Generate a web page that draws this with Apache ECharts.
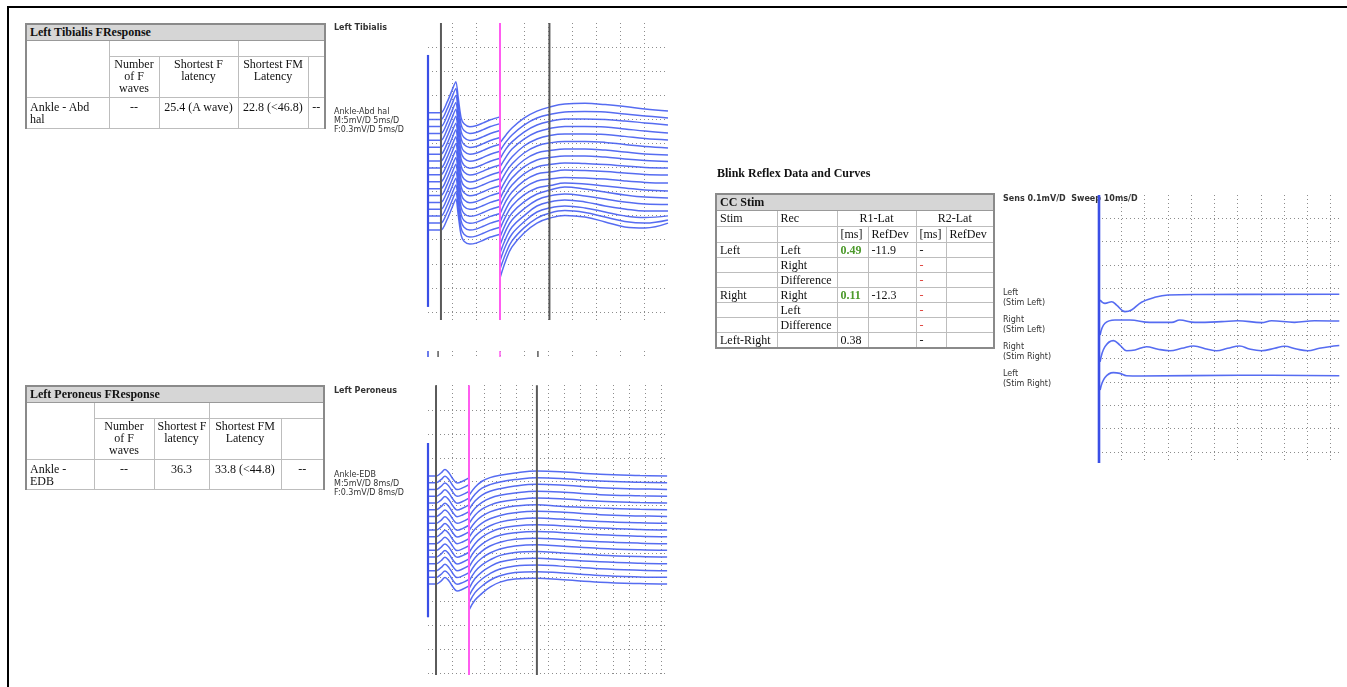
<!DOCTYPE html>
<html>
<head>
<meta charset="utf-8">
<script src="https://cdn.jsdelivr.net/npm/echarts@6/dist/echarts.min.js"></script>
<style>
  html, body { margin: 0; padding: 0; background: #fff; }
  #page { position: relative; width: 1347px; height: 687px; overflow: hidden; }
  #chart { position: absolute; left: 0; top: 0; width: 1347px; height: 687px; }
  .frame { position: absolute; left: 7px; top: 6px; right: -4px; bottom: -4px; border-top: 2px solid #000; border-left: 2px solid #000; }
  table.nc { position: absolute; border-collapse: collapse; table-layout: fixed; font-family: 'Liberation Serif', serif; font-size: 12px; line-height: 12px; color: #111; border: 2px solid #8a8a8a; }
  table.nc td { border: 1px solid #bdbdbd; padding: 1px 3px; vertical-align: top; overflow: hidden; white-space: nowrap; }
  table.nc td.c { text-align: center; }
  table.nc tr.ttl td { background: #d6d6d6; font-weight: bold; vertical-align: middle; border-bottom-color: #999; }
  table.nc td.g { color: #4d9a2c; font-weight: bold; }
  table.nc td.r { color: #e0403a; }
  .h { position: absolute; font-family: 'Liberation Serif', serif; font-size: 12px; font-weight: bold; color: #111; }
</style>
</head>
<body>
<div id="page">
  <div id="chart"></div>
  <div class="frame"></div>

  <table class="nc" style="left:25px;top:23px;width:299px;border-bottom:1px dashed #999">
    <colgroup><col style="width:83px"><col style="width:50px"><col style="width:79px"><col style="width:70px"><col style="width:17px"></colgroup>
    <tr class="ttl" style="height:16px"><td colspan="5">Left Tibialis FResponse</td></tr>
    <tr style="height:16px"><td rowspan="2"></td><td colspan="2"></td><td colspan="2"></td></tr>
    <tr style="height:41px"><td class="c">Number<br>of F<br>waves</td><td class="c">Shortest F<br>latency</td><td class="c">Shortest FM<br>Latency</td><td></td></tr>
    <tr style="height:31px"><td style="padding-top:3px">Ankle - Abd<br>hal</td><td class="c" style="padding-top:3px">--</td><td class="c" style="padding-top:3px">25.4 (A wave)</td><td class="c" style="padding-top:3px">22.8 (&lt;46.8)</td><td class="c" style="padding-top:3px">--</td></tr>
  </table>

  <table class="nc" style="left:25px;top:385px;width:298px;border-bottom:1px dashed #999">
    <colgroup><col style="width:68px"><col style="width:60px"><col style="width:55px"><col style="width:72px"><col style="width:43px"></colgroup>
    <tr class="ttl" style="height:16px"><td colspan="5">Left Peroneus FResponse</td></tr>
    <tr style="height:16px"><td rowspan="2"></td><td colspan="2"></td><td colspan="2"></td></tr>
    <tr style="height:41px"><td class="c">Number<br>of F<br>waves</td><td class="c">Shortest F<br>latency</td><td class="c">Shortest FM<br>Latency</td><td></td></tr>
    <tr style="height:30px"><td style="padding-top:3px">Ankle -<br>EDB</td><td class="c" style="padding-top:3px">--</td><td class="c" style="padding-top:3px">36.3</td><td class="c" style="padding-top:3px">33.8 (&lt;44.8)</td><td class="c" style="padding-top:3px">--</td></tr>
  </table>

  <div class="h" style="left:717px;top:166px">Blink Reflex Data and Curves</div>
  <table class="nc" style="left:715px;top:193px;width:278px">
    <colgroup><col style="width:61px"><col style="width:60px"><col style="width:31px"><col style="width:48px"><col style="width:30px"><col style="width:48px"></colgroup>
    <tr class="ttl" style="height:16px"><td colspan="6">CC Stim</td></tr>
    <tr style="height:16px"><td>Stim</td><td>Rec</td><td colspan="2" class="c">R1-Lat</td><td colspan="2" class="c">R2-Lat</td></tr>
    <tr style="height:16px"><td></td><td></td><td>[ms]</td><td>RefDev</td><td>[ms]</td><td>RefDev</td></tr>
    <tr style="height:15px"><td>Left</td><td>Left</td><td class="g">0.49</td><td>-11.9</td><td>-</td><td></td></tr>
    <tr style="height:15px"><td></td><td>Right</td><td></td><td></td><td class="r">-</td><td></td></tr>
    <tr style="height:15px"><td></td><td>Difference</td><td></td><td></td><td class="r">-</td><td></td></tr>
    <tr style="height:15px"><td>Right</td><td>Right</td><td class="g">0.11</td><td>-12.3</td><td class="r">-</td><td></td></tr>
    <tr style="height:15px"><td></td><td>Left</td><td></td><td></td><td class="r">-</td><td></td></tr>
    <tr style="height:15px"><td></td><td>Difference</td><td></td><td></td><td class="r">-</td><td></td></tr>
    <tr style="height:15px"><td>Left-Right</td><td></td><td>0.38</td><td></td><td>-</td><td></td></tr>
  </table>
</div>

<script>
// ---- Left Tibialis (x in ms, y in divisions of the display) ----
const tibMX = [0, 2.7, 4.0, 5.0, 5.8, 6.3, 6.9, 7.5, 8.7, 10.0, 11.5, 13.0, 15.0];
const tibMShape = [0, 0, 0.45, 0.93, 1.29, 0.62, -0.21, -0.46, -0.58, -0.54, -0.42, -0.29, -0.17];
const tibBase = [8.27, 7.99, 7.70, 7.41, 7.13, 6.84, 6.55, 6.27, 5.98, 5.70, 5.41, 5.12, 4.84, 4.55, 4.26, 3.98, 3.69, 3.40];
const tibFX = [15, 16.25, 17.5, 20, 22.7, 25.4, 28.5, 32.7, 36.9, 41, 45.2, 50];
const tibF = [
  [7.02, 7.35, 7.64, 8.05, 8.34, 8.51, 8.63, 8.66, 8.61, 8.53, 8.43, 8.34],
  [6.69, 7.06, 7.35, 7.76, 8.05, 8.20, 8.30, 8.32, 8.30, 8.22, 8.14, 8.05],
  [6.35, 6.77, 7.06, 7.47, 7.76, 7.91, 8.01, 8.01, 7.99, 7.93, 7.85, 7.76],
  [6.02, 6.43, 6.77, 7.18, 7.47, 7.62, 7.70, 7.70, 7.68, 7.60, 7.51, 7.43],
  [5.69, 6.10, 6.43, 6.89, 7.18, 7.33, 7.39, 7.39, 7.37, 7.29, 7.20, 7.14],
  [5.35, 5.81, 6.14, 6.60, 6.89, 7.02, 7.08, 7.08, 7.04, 6.95, 6.87, 6.81],
  [5.02, 5.48, 5.85, 6.31, 6.60, 6.70, 6.77, 6.77, 6.72, 6.64, 6.56, 6.52],
  [4.69, 5.19, 5.56, 6.02, 6.31, 6.41, 6.48, 6.48, 6.43, 6.35, 6.29, 6.25],
  [4.40, 4.90, 5.27, 5.73, 6.02, 6.12, 6.19, 6.16, 6.12, 6.06, 6.00, 5.98],
  [4.07, 4.61, 4.98, 5.44, 5.73, 5.81, 5.89, 5.87, 5.83, 5.77, 5.71, 5.69],
  [3.74, 4.28, 4.69, 5.15, 5.44, 5.52, 5.58, 5.56, 5.52, 5.44, 5.38, 5.35],
  [3.45, 3.99, 4.40, 4.86, 5.15, 5.25, 5.35, 5.31, 5.23, 5.15, 5.06, 5.02],
  [3.11, 3.69, 4.11, 4.57, 4.90, 5.06, 5.19, 5.11, 4.98, 4.86, 4.77, 4.73],
  [2.78, 3.40, 3.82, 4.28, 4.65, 4.82, 4.90, 4.82, 4.69, 4.57, 4.48, 4.46],
  [2.45, 3.07, 3.53, 3.99, 4.40, 4.57, 4.65, 4.57, 4.40, 4.28, 4.19, 4.19],
  [2.12, 2.78, 3.24, 3.74, 4.15, 4.32, 4.40, 4.32, 4.15, 3.99, 3.92, 3.99],
  [1.78, 2.45, 2.95, 3.49, 3.90, 4.11, 4.21, 4.13, 3.94, 3.76, 3.69, 3.82],
  [1.41, 2.16, 2.70, 3.28, 3.69, 3.90, 4.01, 3.94, 3.74, 3.53, 3.49, 3.69]
];
const tibStim = [0.21, 10.67];
const tibCursors = [2.7, 15, 25.3];
const tibMarks = [0, 2.1, 15, 22.9];

// ---- Left Peroneus ----
const perMX = [0, 2.67, 4.33, 5.67, 7.0, 8.33, 9.67, 11.33, 13.67];
const perMShape = [0, 0, 0.125, 0.27, 0.125, -0.125, -0.29, -0.23, -0.08];
const perBase = [8.24, 7.96, 7.68, 7.39, 7.11, 6.83, 6.55, 6.26, 5.98, 5.70, 5.41, 5.13, 4.85, 4.57, 4.28, 4.00, 3.72];
const perFX = [13.67, 15.67, 18, 20.67, 24, 29, 36.33, 44, 57.33, 70.67, 79.7];
const perF = [
  [7.43, 7.77, 8.02, 8.17, 8.27, 8.37, 8.45, 8.42, 8.31, 8.26, 8.24],
  [7.13, 7.48, 7.73, 7.88, 7.99, 8.09, 8.17, 8.14, 8.03, 7.98, 7.96],
  [6.84, 7.19, 7.44, 7.60, 7.71, 7.82, 7.89, 7.86, 7.75, 7.70, 7.68],
  [6.54, 6.89, 7.14, 7.31, 7.43, 7.53, 7.60, 7.57, 7.46, 7.41, 7.39],
  [6.25, 6.60, 6.85, 7.02, 7.15, 7.25, 7.32, 7.29, 7.18, 7.13, 7.11],
  [5.96, 6.31, 6.56, 6.74, 6.87, 6.98, 7.04, 6.97, 6.90, 6.85, 6.83],
  [5.67, 6.02, 6.27, 6.45, 6.59, 6.70, 6.76, 6.73, 6.62, 6.57, 6.55],
  [5.37, 5.72, 5.97, 6.16, 6.31, 6.42, 6.48, 6.44, 6.34, 6.28, 6.26],
  [5.03, 5.41, 5.68, 5.88, 6.04, 6.15, 6.20, 6.16, 6.06, 6.00, 5.98],
  [4.73, 5.12, 5.39, 5.60, 5.76, 5.87, 5.92, 5.88, 5.78, 5.72, 5.70],
  [4.43, 4.82, 5.10, 5.31, 5.47, 5.59, 5.64, 5.59, 5.49, 5.43, 5.41],
  [4.13, 4.53, 4.81, 5.02, 5.19, 5.31, 5.36, 5.31, 5.21, 5.15, 5.13],
  [3.83, 4.24, 4.52, 4.73, 4.92, 5.04, 5.08, 5.03, 4.93, 4.87, 4.85],
  [3.53, 3.95, 4.23, 4.45, 4.64, 4.76, 4.80, 4.75, 4.65, 4.59, 4.57],
  [3.22, 3.65, 3.93, 4.16, 4.35, 4.48, 4.52, 4.47, 4.36, 4.30, 4.28],
  [2.93, 3.36, 3.64, 3.88, 4.07, 4.20, 4.24, 4.19, 4.08, 4.02, 4.00],
  [2.63, 3.05, 3.33, 3.59, 3.80, 3.93, 3.96, 3.91, 3.80, 3.74, 3.72]
];
const perStim = [2.33, 9.62];
const perCursors = [2.67, 13.67, 36.3];

// ---- Blink reflex (x in ms, y in divisions) ----
const blinkLeftStimLeft = [[0.9, 6.50], [3.0, 6.35], [5.9, 6.42], [8.0, 6.28], [11.6, 6.00], [14.4, 6.07], [18.7, 6.40], [24.4, 6.61], [30.1, 6.71], [43.7, 6.73], [103.7, 6.74]];
const blinkRightStimLeft = [[0.9, 5.00], [3.0, 5.50], [7.3, 5.64], [13.7, 5.64], [22.3, 5.54], [31.7, 5.54], [35.1, 5.64], [41.6, 5.54], [53.1, 5.57], [60.0, 5.61], [70.3, 5.53], [74.6, 5.61], [84.4, 5.54], [93.0, 5.61], [103.7, 5.60]];
const blinkRightStimRight = [[0.9, 3.85], [3.0, 4.50], [6.6, 4.76], [9.4, 4.57], [12.3, 4.33], [15.9, 4.36], [20.9, 4.50], [25.8, 4.39], [30.9, 4.33], [36.0, 4.43], [41.1, 4.53], [47.1, 4.39], [50.9, 4.33], [55.7, 4.43], [60.9, 4.53], [65.1, 4.40], [70.2, 4.33], [75.9, 4.43], [80.2, 4.52], [85.3, 4.40], [90.1, 4.33], [95.1, 4.43], [99.4, 4.50], [103.7, 4.55]];
const blinkLeftStimRight = [[0.9, 2.65], [3.0, 3.18], [6.6, 3.39], [9.4, 3.36], [12.3, 3.26], [18.0, 3.25], [60.9, 3.28], [103.7, 3.26]];
const blinkStimX = 0.43;

const TRACE = 'rgba(72,96,240,0.92)';
const DOT = { color: '#8c8c8c', width: 1, type: [1, 3] };

const chart = echarts.init(document.getElementById('chart'), null, { renderer: 'canvas' });

const grids = [
  { left: 428, top: 23, width: 240, height: 297 },   // 0 tibialis verticals
  { left: 428, top: 47, width: 240, height: 265 },   // 1 tibialis traces
  { left: 428, top: 351, width: 240, height: 6 },    // 2 tibialis marker strip
  { left: 420, top: 385, width: 257, height: 290 },  // 3 peroneus verticals
  { left: 428, top: 410, width: 240, height: 263 },  // 4 peroneus traces
  { left: 1098, top: 195, width: 242, height: 268 }, // 5 blink verticals
  { left: 1098, top: 218, width: 242, height: 234 }  // 6 blink traces
];

function vAxis(gi, min, max, interval) {
  return { type: 'value', gridIndex: gi, min, max, interval,
    axisLine: { show: false }, axisTick: { show: false }, axisLabel: { show: false },
    splitLine: { show: true, showMinLine: false, showMaxLine: false, lineStyle: DOT } };
}
function hAxis(gi, min, max, interval) {
  return { type: 'value', gridIndex: gi, min, max, interval,
    axisLine: { show: false }, axisTick: { show: false }, axisLabel: { show: false },
    splitLine: { show: true, lineStyle: DOT } };
}
function blank(gi, min, max) {
  return { type: 'value', gridIndex: gi, min, max, show: false, splitLine: { show: false } };
}

const xAxis = [
  vAxis(0, 0, 50, 5), blank(1, 0, 50), vAxis(2, 0, 50, 5),
  vAxis(3, 0, 16, 1), blank(4, 0, 80),
  vAxis(5, 0, 104, 10), blank(6, 0, 104)
];
const yAxis = [
  blank(0, 0, 1), hAxis(1, 0, 11, 1), blank(2, 0, 1),
  blank(3, 0, 1), hAxis(4, 0, 11, 1),
  blank(5, 0, 1), hAxis(6, 0, 10, 1)
];

const series = [];
function line(gi, data, color, width, extra) {
  series.push(Object.assign({ type: 'line', xAxisIndex: gi, yAxisIndex: gi, data,
    symbol: 'none', silent: true, animation: false,
    lineStyle: { color, width } }, extra || {}));
}

// tibialis traces
tibBase.forEach((b, k) => {
  line(1, tibMX.map((x, i) => [x, b + tibMShape[i]]), TRACE, 1.5, { smooth: 0.25 });
  line(1, tibFX.map((x, i) => [x, tibF[k][i]]), TRACE, 1.5, { smooth: 0.4 });
});
line(1, [[0, tibStim[0]], [0, tibStim[1]]], '#3a4fe6', 2.2);
tibCursors.forEach((c, i) => line(0, [[c, 0], [c, 1]], i === 1 ? '#ff5cf0' : '#5a5a5a', 2, { z: 5 }));
tibMarks.forEach((c, i) => line(2, [[c, 0], [c, 1]], ['#3a4fe6', '#5a5a5a', '#ff5cf0', '#5a5a5a'][i], 1.5));

// peroneus traces
perBase.forEach((b, k) => {
  line(4, perMX.map((x, i) => [x, b + perMShape[i]]), TRACE, 1.5, { smooth: 0.4 });
  line(4, perFX.map((x, i) => [x, perF[k][i]]), TRACE, 1.5, { smooth: 0.4 });
});
line(4, [[0, perStim[0]], [0, perStim[1]]], '#3a4fe6', 2.2);
// peroneus cursors share the trace time scale (8 ms per 24 px); the vertical grid has its own units
perCursors.forEach((c, i) => line(4, [[c, -0.08], [c, 12.03]], i === 1 ? '#ff5cf0' : '#5a5a5a', 2, { z: 5, clip: false }));

// blink traces
[blinkLeftStimLeft, blinkRightStimLeft, blinkRightStimRight, blinkLeftStimRight].forEach(d => line(6, d, TRACE, 1.6, { smooth: 0.4 }));
line(5, [[blinkStimX, 0], [blinkStimX, 1]], '#3a4fe6', 2.6);

const LBL = { fontFamily: 'DejaVu Sans', fontSize: 8, fill: '#333' };
function txt(left, top, text, bold, lh) {
  return { type: 'text', left, top, silent: true,
    style: Object.assign({}, LBL, { text, fontWeight: bold ? 'bold' : 'normal', lineHeight: lh || 9.3 }) };
}

chart.setOption({
  animation: false,
  grid: grids,
  xAxis, yAxis, series,
  graphic: [
    txt(334, 23, 'Left Tibialis', true),
    txt(334, 107, 'Ankle-Abd hal\nM:5mV/D 5ms/D\nF:0.3mV/D 5ms/D', false),
    txt(334, 386, 'Left Peroneus', true),
    txt(334, 470, 'Ankle-EDB\nM:5mV/D 8ms/D\nF:0.3mV/D 8ms/D', false),
    txt(1003, 194, 'Sens 0.1mV/D  Sweep 10ms/D', true),
    txt(1003, 288, 'Left\n(Stim Left)', false, 10),
    txt(1003, 315, 'Right\n(Stim Left)', false, 10),
    txt(1003, 342, 'Right\n(Stim Right)', false, 10),
    txt(1003, 369, 'Left\n(Stim Right)', false, 10)
  ]
});
</script>
</body>
</html>
